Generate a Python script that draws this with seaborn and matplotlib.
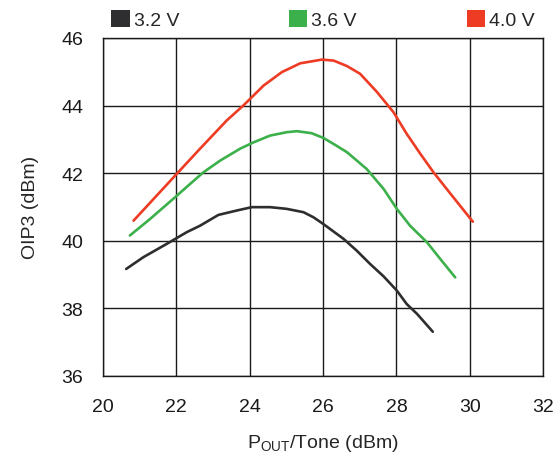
import matplotlib
matplotlib.use("Agg")
import matplotlib.pyplot as plt
from matplotlib.patches import Patch
import seaborn as sns
import pandas as pd

# OIP3 vs output power per tone
x_32 = [20.64, 21.11, 21.74, 22.29, 22.65, 23.15, 23.65, 24.06, 24.56, 25.01, 25.47,
        25.74, 26.01, 26.56, 26.92, 27.28, 27.65, 28.01, 28.28, 28.56, 28.99]
y_32 = [39.16, 39.51, 39.90, 40.25, 40.44, 40.76, 40.89, 40.99, 40.99, 40.94, 40.84,
        40.69, 40.49, 40.05, 39.70, 39.31, 38.94, 38.52, 38.12, 37.83, 37.30]

x_36 = [20.74, 21.29, 22.02, 22.33, 22.74, 23.20, 23.74, 24.11, 24.56, 25.01, 25.29,
        25.69, 26.01, 26.29, 26.65, 27.19, 27.65, 28.01, 28.37, 28.83, 29.19, 29.60]
y_36 = [40.15, 40.64, 41.33, 41.63, 42.02, 42.37, 42.72, 42.91, 43.11, 43.21, 43.24,
        43.18, 43.04, 42.86, 42.62, 42.12, 41.53, 40.94, 40.44, 39.95, 39.46, 38.91]

x_40 = [20.84, 22.02, 22.65, 23.38, 23.83, 24.38, 24.88, 25.38, 25.97, 26.29, 26.65,
        27.01, 27.47, 27.92, 28.28, 28.65, 29.01, 29.55, 30.08]
y_40 = [40.59, 41.98, 42.72, 43.56, 44.00, 44.59, 44.99, 45.25, 45.36, 45.33, 45.17,
        44.94, 44.40, 43.80, 43.16, 42.57, 42.02, 41.28, 40.56]

labels = ["3.2 V", "3.6 V", "4.0 V"]
colors = ["#2e2e30", "#3cb04a", "#ee3b24"]

frames = []
for lab, xs, ys in zip(labels, [x_32, x_36, x_40], [y_32, y_36, y_40]):
    frames.append(pd.DataFrame({"pout": xs, "oip3": ys, "supply": lab}))
df = pd.concat(frames, ignore_index=True)

sns.set_style("white")
plt.rcParams["font.family"] = ["Liberation Sans", "DejaVu Sans"]
plt.rcParams["mathtext.fontset"] = "custom"
plt.rcParams["mathtext.rm"] = "Liberation Sans"

fig = plt.figure(figsize=(5.59, 4.56), dpi=100)
ax = fig.add_axes([0.1837, 0.174, 0.7883, 0.7405])

sns.lineplot(data=df, x="pout", y="oip3", hue="supply", palette=colors,
             estimator=None, sort=False, linewidth=1.9, legend=False, ax=ax)

ax.set_xlim(20, 32)
ax.set_ylim(36, 46)
ax.set_xticks(range(20, 33, 2))
ax.set_yticks(range(36, 47, 2))
ax.grid(True, color="#1a1a1a", linewidth=1.0)
ax.set_axisbelow(True)
for s in ax.spines.values():
    s.set_color("#1a1a1a")
    s.set_linewidth(1.0)
ax.tick_params(length=0, labelsize=14, colors="#1a1a1a")
ax.tick_params(axis="x", pad=16)
ax.tick_params(axis="y", pad=14)

ax.set_xlabel(r"P$_\mathregular{OUT}$/Tone (dBm)", fontsize=14, labelpad=12)
ax.set_ylabel("OIP3 (dBm)", fontsize=14, labelpad=16)

handles = [Patch(facecolor=c, edgecolor="none") for c in colors]
ax.legend(handles, labels, ncol=3, mode="expand", loc="lower left",
          bbox_to_anchor=(0.0, 1.0, 1.0, 0.05), frameon=False, fontsize=14,
          handlelength=0.95, handleheight=0.95, handletextpad=0.2, borderaxespad=0.05)

fig.savefig("out.png", dpi=100)
